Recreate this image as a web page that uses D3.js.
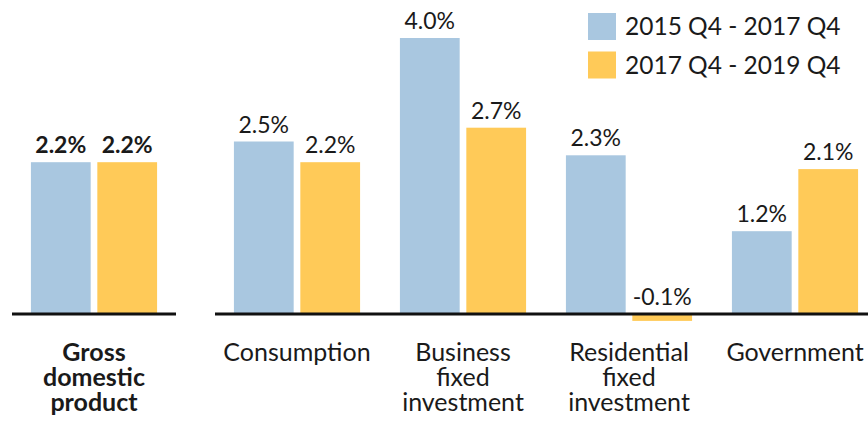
<!DOCTYPE html>
<html>
<head>
<meta charset="utf-8">
<script src="https://cdn.jsdelivr.net/npm/d3@7"></script>
<style>
  body { margin: 0; background: #fff; }
  text { font-family: Lato, "Open Sans", sans-serif; fill: #1a1a1a; }
</style>
</head>
<body>
<div id="chart"></div>
<script>
// data
var categories = ["Gross domestic product", "Consumption", "Business fixed investment", "Residential fixed investment", "Government"];
var labelLines = [["Gross", "domestic", "product"], ["Consumption"], ["Business", "fixed", "investment"], ["Residential", "fixed", "investment"], ["Government"]];
var series = ["2015 Q4 - 2017 Q4", "2017 Q4 - 2019 Q4"];
var values1 = [2.2, 2.5, 4.0, 2.3, 1.2];
var values2 = [2.2, 2.2, 2.7, -0.1, 2.1];
var colors = ["#a9c7e0", "#ffca58"];

var width = 868, height = 421;

var svg = d3.select("#chart").append("svg")
    .attr("width", width)
    .attr("height", height);

// y scale
var y = d3.scaleLinear().domain([0, 4]).range([314, 38]);

// GDP sits on its own little axis, the components on another
var xGdp = d3.scaleBand()
    .domain([categories[0]])
    .range([12, 176])
    .paddingInner(0)
    .paddingOuter(0.15);

var xComp = d3.scaleBand()
    .domain(categories.slice(1))
    .range([214, 878])
    .paddingInner(0.24)
    .paddingOuter(0.12);

var xSeries = d3.scaleBand()
    .domain(series)
    .range([0, xComp.bandwidth()])
    .paddingInner(0.1);

function xCat(c) {
    return c === categories[0] ? xGdp(c) : xComp(c);
}

var data = [];
categories.forEach(function(c, i) {
    data.push({cat: c, s: series[0], v: values1[i], i: i});
    data.push({cat: c, s: series[1], v: values2[i], i: i});
});

// bars
svg.selectAll(".bar")
    .data(data)
    .enter().append("rect")
    .attr("class", "bar")
    .attr("x", function(d) { return xCat(d.cat) + xSeries(d.s); })
    .attr("y", function(d) { return y(Math.max(0, d.v)); })
    .attr("width", xSeries.bandwidth())
    .attr("height", function(d) { return Math.abs(y(d.v) - y(0)); })
    .attr("fill", function(d) { return d.s === series[0] ? colors[0] : colors[1]; });

// value labels
svg.selectAll(".val")
    .data(data)
    .enter().append("text")
    .attr("class", "val")
    .attr("x", function(d) { return xCat(d.cat) + xSeries(d.s) + xSeries.bandwidth() / 2; })
    .attr("y", function(d) { return y(Math.max(0, d.v)) - 9; })
    .attr("text-anchor", "middle")
    .style("font-size", "23px")
    .style("font-weight", function(d) { return d.i === 0 ? "bold" : "normal"; })
    .text(function(d) { return d.v.toFixed(1) + "%"; });

// baselines
svg.append("line")
    .attr("x1", xGdp.range()[0]).attr("x2", xGdp.range()[1])
    .attr("y1", y(0)).attr("y2", y(0))
    .attr("stroke", "#111").attr("stroke-width", 3);

svg.append("line")
    .attr("x1", 215).attr("x2", width)
    .attr("y1", y(0)).attr("y2", y(0))
    .attr("stroke", "#111").attr("stroke-width", 3);

// category labels
var catLabels = svg.selectAll(".cat")
    .data(categories)
    .enter().append("text")
    .attr("class", "cat")
    .attr("text-anchor", "middle")
    .attr("x", function(c) { return c === categories[0] ? xGdp(c) + xGdp.bandwidth() / 2 : xComp(c) + xComp.bandwidth() / 2; })
    .attr("y", 361)
    .style("font-size", "25px")
    .style("font-weight", function(c, i) { return i === 0 ? "bold" : "normal"; });

catLabels.selectAll("tspan")
    .data(function(c, i) { return labelLines[i]; })
    .enter().append("tspan")
    .attr("x", function() { return d3.select(this.parentNode).attr("x"); })
    .attr("dy", function(d, j) { return j === 0 ? 0 : 25; })
    .text(function(d) { return d; });

// legend
var legend = svg.selectAll(".legend")
    .data(series)
    .enter().append("g")
    .attr("class", "legend")
    .attr("transform", function(d, i) { return "translate(588," + (13 + i * 38.5) + ")"; });

legend.append("rect")
    .attr("width", 28)
    .attr("height", 27)
    .attr("fill", function(d, i) { return colors[i]; });

legend.append("text")
    .attr("x", 37)
    .attr("y", 22)
    .style("font-size", "24.5px")
    .text(function(d) { return d; });
</script>
</body>
</html>
